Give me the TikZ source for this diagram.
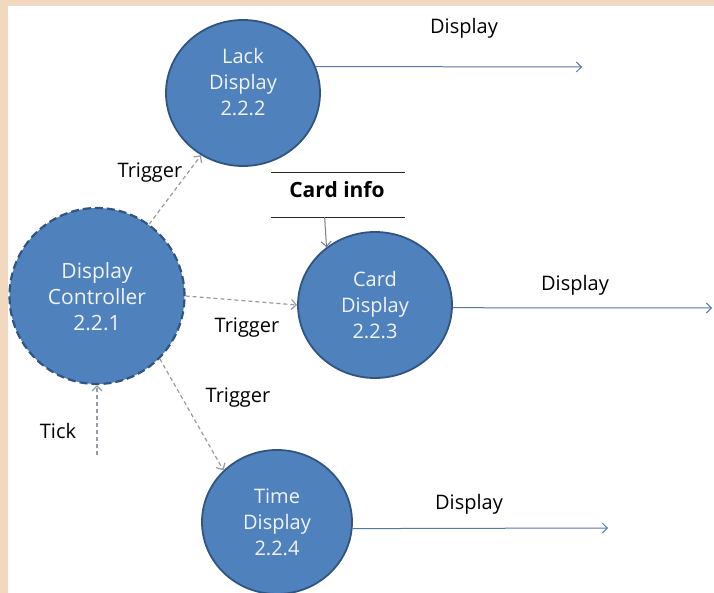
\documentclass[tikz,border=0pt]{standalone}
\usepackage{fontspec}
\setmainfont{Open Sans}
\usetikzlibrary{shapes.geometric,arrows.meta}
\definecolor{beige}{RGB}{242,216,190}
\definecolor{pfill}{RGB}{79,129,189}
\definecolor{pline}{RGB}{50,84,128}
\definecolor{ptxt}{RGB}{240,244,250}
\definecolor{flowc}{RGB}{85,120,170}
\definecolor{trigc}{RGB}{150,155,165}
\begin{document}
\begin{tikzpicture}[x=1pt,y=-1pt,
  proc/.style={ellipse, fill=pfill, draw=pline, line width=1.8pt, inner sep=0pt},
  ptext/.style={align=center, text=ptxt, font=\fontsize{20}{26}\selectfont},
  lbl/.style={font=\fontsize{20}{24}\selectfont, text=black, inner sep=0pt},
  flow/.style={draw=flowc, line width=1pt, -{Straight Barb[length=5pt,width=10pt]}},
  trig/.style={draw=trigc, line width=1.2pt, dash pattern=on 4pt off 3pt, -{Straight Barb[length=5pt,width=10pt]}}
]
\fill[beige] (0,0) rectangle (714,593);
\fill[white] (8,6) rectangle (714,593);
\useasboundingbox (0,0) rectangle (714,593);

% processes
\node[proc, minimum width=154pt, minimum height=146pt] (lack) at (243,93) {};
\node[ptext] (lackt) at (243,82) {Lack\\Display\\2.2.2};

\node[proc, minimum width=175pt, minimum height=176pt, dash pattern=on 8pt off 4pt, line width=2.2pt] (ctrl) at (97,296) {};
\node[ptext, font=\fontsize{21}{26}\selectfont] (ctrlt) at (97,297) {Display\\Controller\\2.2.1};

\node[proc, minimum width=154pt, minimum height=146pt] (card) at (375,305) {};
\node[ptext] (cardt) at (375,305) {Card\\Display\\2.2.3};

\node[proc, minimum width=150pt, minimum height=144pt] (time) at (277,522) {};
\node[ptext] (timet) at (277,522) {Time\\Display\\2.2.4};

% data store
\node[minimum width=133pt, minimum height=44pt, inner sep=0pt] (store) at (338,195) {};
\node[lbl, font=\fontsize{21}{24}\selectfont\bfseries] (storet) at (337,190) {Card info};
\draw[black!85, line width=1.2pt] (store.north west) -- (store.north east);
\draw[black!85, line width=1.2pt] (store.south west) -- (store.south east);

% outputs
\coordinate (out1) at (582,67);
\coordinate (out2) at (712,308);
\coordinate (out3) at (608,528);
\draw[flow] (lack.20) -- (out1);
\draw[flow] (card.-2) -- (out2);
\draw[flow] (time.-5) -- (out3);
\draw[flow, draw=trigc!80!black] (store.-121) -- (card.130);

% triggers
\draw[trig] (ctrl.54) -- (lack.236);
\draw[trig] (ctrl.east) -- (card.west);
\draw[trig] (ctrl.-45) -- (time.136);
\coordinate (tickin) at (97,455);
\draw[trig] (tickin) -- (ctrl.south);

% labels
\node[lbl] (d1) at (464,28) {Display};
\node[lbl] (d2) at (575,285) {Display};
\node[lbl] (d3) at (469,504) {Display};
\node[lbl] (t1) at (150,173) {Trigger};
\node[lbl] (t2) at (247,328) {Trigger};
\node[lbl] (t3) at (238,398) {Trigger};
\node[lbl] (tk) at (58,431) {Tick};
\end{tikzpicture}
\end{document}
